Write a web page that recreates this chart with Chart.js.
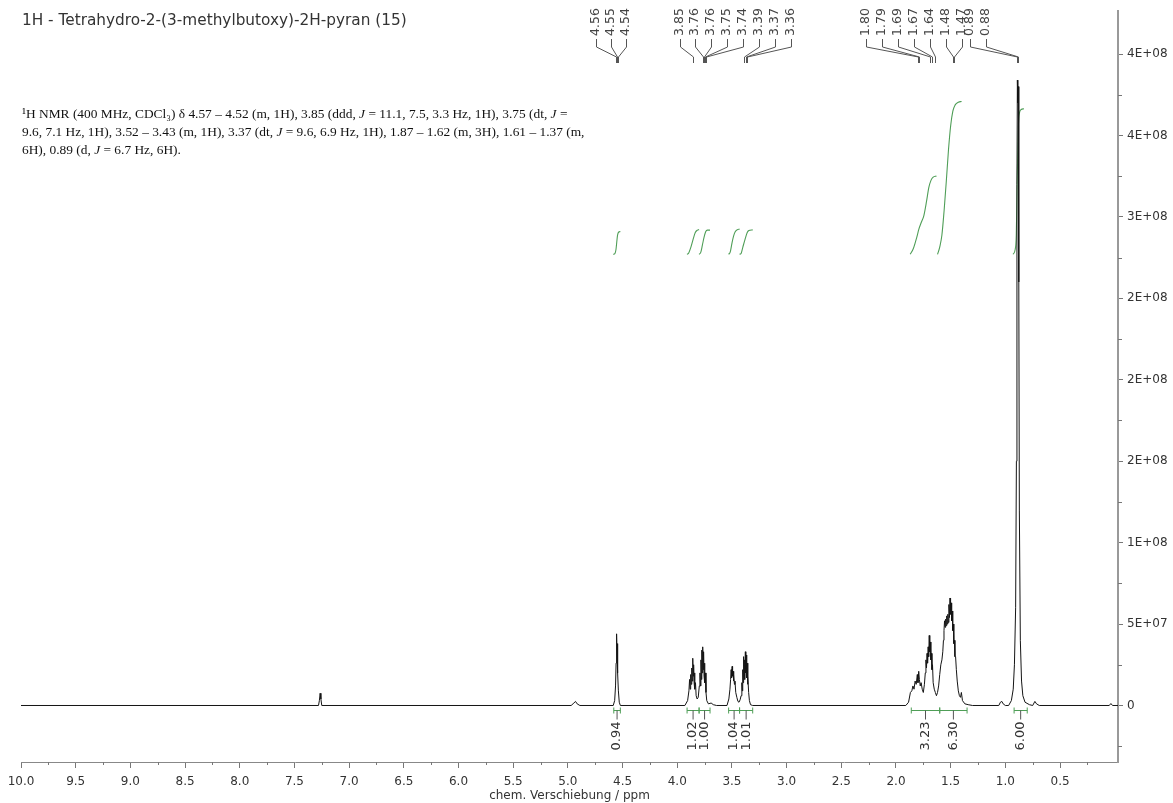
<!DOCTYPE html>
<html lang="de">
<head>
<meta charset="UTF-8">
<title>1H NMR - Tetrahydro-2-(3-methylbutoxy)-2H-pyran</title>
<script src="https://cdn.jsdelivr.net/npm/chart.js"></script>
<style>
  html, body { margin: 0; padding: 0; background: #fff; }
  #wrap { width: 1173px; height: 803px; }
</style>
</head>
<body>
<div id="wrap"><canvas id="nmr" width="1173" height="803"></canvas></div>
<script>
// ---- spectrum (ppm, intensity) ----
const solvent726 = [[7.28,0],[7.272,0.3e7],[7.265,0.75e7],[7.258,0.4e7],[7.25,0]];
const hump493 = [[4.97,0],[4.945,0.15e7],[4.93,0.25e7],[4.915,0.1e7],[4.89,0]];
const mult455 = [[4.585,0],[4.572,0.3e7],[4.564,1.2e7],[4.559,2.6e7],[4.556,3.4e7],[4.553,4.4e7],
  [4.550,3.1e7],[4.547,3.8e7],[4.543,2.0e7],[4.538,0.9e7],[4.530,0.2e7],[4.52,0]];
const mult385 = [[3.93,0],[3.905,0.3e7],[3.893,0.9e7],[3.887,1.6e7],[3.882,1.0e7],[3.877,1.9e7],
  [3.872,1.3e7],[3.867,2.3e7],[3.863,1.5e7],[3.858,2.9e7],[3.854,1.8e7],[3.850,2.5e7],[3.846,1.4e7],
  [3.842,2.0e7],[3.838,1.0e7],[3.833,1.4e7],[3.827,0.6e7],[3.818,0.4e7]];
const mult375 = [[3.808,0.5e7],[3.798,1.2e7],[3.792,2.0e7],[3.788,1.2e7],[3.783,2.8e7],[3.779,1.6e7],
  [3.775,3.4e7],[3.771,2.0e7],[3.767,3.6e7],[3.763,2.2e7],[3.759,3.3e7],[3.755,1.8e7],[3.751,2.6e7],
  [3.747,1.4e7],[3.743,2.0e7],[3.737,0.8e7],[3.73,0.3e7],[3.715,0.1e7],[3.69,0.15e7],[3.67,0.05e7],[3.64,0]];
const mult348 = [[3.545,0],[3.528,0.4e7],[3.518,1.0e7],[3.512,1.6e7],[3.507,2.2e7],[3.503,1.7e7],
  [3.498,2.4e7],[3.494,1.8e7],[3.490,2.1e7],[3.486,1.5e7],[3.482,1.9e7],[3.477,1.3e7],[3.472,1.5e7],
  [3.465,0.8e7],[3.455,0.5e7],[3.445,0.25e7],[3.435,0.2e7],[3.425,0.35e7]];
const mult337 = [[3.416,0.6e7],[3.409,1.4e7],[3.405,0.9e7],[3.401,2.2e7],[3.397,1.4e7],[3.393,3.0e7],
  [3.389,1.8e7],[3.385,2.8e7],[3.381,1.6e7],[3.377,3.3e7],[3.373,2.0e7],[3.369,3.1e7],[3.365,1.7e7],
  [3.361,2.6e7],[3.357,1.3e7],[3.353,1.8e7],[3.347,0.8e7],[3.34,0.3e7],[3.33,0.05e7],[3.31,0]];
const mult175 = [[1.91,0],[1.885,0.2e7],[1.868,0.8e7],[1.855,0.9e7],[1.845,1.2e7],[1.835,1.0e7],
  [1.825,1.5e7],[1.815,1.3e7],[1.805,1.9e7],[1.799,1.4e7],[1.792,2.1e7],[1.786,1.6e7],[1.778,1.2e7],
  [1.770,1.4e7],[1.760,1.0e7],[1.750,0.8e7],[1.740,1.3e7],[1.732,2.0e7],[1.726,2.8e7],[1.721,2.3e7],
  [1.716,3.2e7],[1.711,2.6e7],[1.706,3.6e7],[1.701,3.0e7],[1.696,4.3e7],[1.691,3.3e7],[1.686,3.9e7],
  [1.681,2.8e7],[1.676,3.2e7],[1.671,2.2e7],[1.666,2.5e7],[1.660,1.4e7],[1.650,1.0e7],[1.640,0.8e7],
  [1.630,0.6e7]];
const mult150 = [[1.620,0.8e7],[1.610,1.2e7],[1.600,1.9e7],[1.590,2.5e7],[1.580,2.8e7],[1.572,3.3e7],
  [1.566,4.0e7],[1.561,4.6e7],[1.556,5.2e7],[1.551,4.8e7],[1.546,5.3e7],[1.541,4.9e7],[1.536,5.5e7],
  [1.531,5.0e7],[1.526,5.6e7],[1.521,5.1e7],[1.516,6.2e7],[1.511,5.4e7],[1.506,6.6e7],[1.501,5.6e7],
  [1.496,6.3e7],[1.491,5.2e7],[1.486,5.8e7],[1.481,4.6e7],[1.476,5.0e7],[1.471,3.8e7],[1.466,4.0e7],
  [1.461,3.0e7],[1.455,3.0e7],[1.448,2.2e7],[1.440,1.5e7],[1.430,0.9e7],[1.420,0.6e7],[1.410,0.5e7],
  [1.402,0.8e7],[1.392,0.3e7],[1.37,0.1e7],[1.34,0.05e7],[1.30,0]];
const hump103 = [[1.06,0],[1.045,0.2e7],[1.032,0.25e7],[1.02,0.1e7],[1.00,0]];
const mult088 = [[0.97,0],[0.945,0.3e7],[0.928,1.0e7],[0.917,2.5e7],[0.906,6e7],[0.899,1.5e8],
  [0.894,3.2e8],[0.890,3.84e8],[0.886,3.7e8],[0.882,3.8e8],[0.877,2.6e8],[0.872,1.2e8],[0.863,4e7],
  [0.852,1.5e7],[0.840,0.6e7],[0.820,0.2e7],[0.78,0.05e7]];
const hump072 = [[0.75,0],[0.73,0.25e7],[0.715,0.1e7],[0.69,0]];
const hump003 = [[0.05,0],[0.035,0.12e7],[0.02,0],[-0.03,0]];

// ---- integrals: ppm and cumulative protons ----
const int455 = [[4.585,0],[4.57,0.03],[4.56,0.2],[4.553,0.5],[4.546,0.78],[4.535,0.92],[4.52,0.94]];
const int385 = [[3.91,0],[3.895,0.06],[3.875,0.3],[3.855,0.62],[3.835,0.9],[3.815,1.0],[3.80,1.02]];
const int375 = [[3.80,0],[3.785,0.08],[3.77,0.38],[3.755,0.7],[3.74,0.93],[3.725,1.0],[3.70,1.0]];
const int348 = [[3.53,0],[3.515,0.1],[3.50,0.45],[3.485,0.75],[3.47,0.93],[3.45,1.02],[3.43,1.04]];
const int337 = [[3.43,0],[3.415,0.05],[3.40,0.3],[3.38,0.62],[3.36,0.9],[3.345,0.98],[3.31,1.01]];
const int175 = [[1.87,0],[1.84,0.25],[1.81,0.7],[1.79,1.05],[1.77,1.3],[1.745,1.6],[1.72,2.2],
  [1.70,2.75],[1.68,3.05],[1.66,3.18],[1.63,3.23]];
const int150 = [[1.62,0],[1.60,0.3],[1.58,0.8],[1.56,1.8],[1.54,3.0],[1.52,4.3],[1.50,5.3],
  [1.48,5.9],[1.46,6.15],[1.43,6.27],[1.40,6.30]];
const int088 = [[0.93,0],[0.91,0.2],[0.90,0.8],[0.893,2.6],[0.886,4.4],[0.879,5.5],[0.87,5.85],
  [0.855,5.97],[0.83,6.0]];

// integration brackets under the baseline
const integFrom = [4.58, 3.91, 3.80, 3.53, 3.43, 1.86, 1.60, 0.92];
const integTo   = [4.52, 3.80, 3.70, 3.43, 3.31, 1.60, 1.35, 0.80];
const integText = ['0.94','1.02','1.00','1.04','1.01','3.23','6.30','6.00'];

// peak picking labels
const peakText = ['4.56','4.55','4.54','3.85','3.76','3.76','3.75','3.74','3.39','3.37','3.36',
  '1.80','1.79','1.69','1.67','1.64','1.48','1.47','0.89','0.88'];
const peakPpm = [4.562,4.553,4.544,3.852,3.765,3.759,3.750,3.741,3.392,3.375,3.359,
  1.800,1.789,1.692,1.672,1.640,1.482,1.470,0.890,0.881];

// axis ticks
const xTickValues = [10,9.5,9,8.5,8,7.5,7,6.5,6,5.5,5,4.5,4,3.5,3,2.5,2,1.5,1,0.5];
const xTickLabels = ['10.0','9.5','9.0','8.5','8.0','7.5','7.0','6.5','6.0','5.5','5.0','4.5','4.0',
  '3.5','3.0','2.5','2.0','1.5','1.0','0.5'];
const yTickValues = [0,5e7,1e8,1.5e8,2e8,2.5e8,3e8,3.5e8,4e8];
const yTickLabels = ['0','5E+07','1E+08','2E+08','2E+08','2E+08','3E+08','4E+08','4E+08'];

const titleText = '1H - Tetrahydro-2-(3-methylbutoxy)-2H-pyran (15)';
const descLines = [
  [['\u00B9H NMR (400 MHz, CDCl\u2083) \u03B4 4.57 \u2013 4.52 (m, 1H), 3.85 (ddd, ',0],['J',1],[' = 11.1, 7.5, 3.3 Hz, 1H), 3.75 (dt, ',0],['J',1],[' =',0]],
  [['9.6, 7.1 Hz, 1H), 3.52 \u2013 3.43 (m, 1H), 3.37 (dt, ',0],['J',1],[' = 9.6, 6.9 Hz, 1H), 1.87 \u2013 1.62 (m, 3H), 1.61 \u2013 1.37 (m,',0]],
  [['6H), 0.89 (d, ',0],['J',1],[' = 6.7 Hz, 6H).',0]]
];

// ---- layout / style ----
const peakLabelX = [596,611,626, 680,695,711,727,743,759,775,791,
  866,882,898,914,930,946,962,970,986];
const intBase = 2.77e8;      // where the integral curves start
const intPerH = 1.49e7;      // height of one proton in the integral trace
const green = '#4f9e57';
const axisFont = { family: 'DejaVu Sans', size: 12 };

function pts(arr) { return arr.map(p => ({ x: p[0], y: p[1] })); }
function intPts(arr) { return arr.map(p => ({ x: p[0], y: intBase + p[1] * intPerH })); }

const spectrum = [[10.0,0], ...solvent726, ...hump493, ...mult455, ...mult385, ...mult375,
  ...mult348, ...mult337, ...mult175, ...mult150, ...hump103, ...mult088, ...hump072, ...hump003];

const integrals = [int455, int385, int375, int348, int337, int175, int150, int088];

const datasets = [{
  data: pts(spectrum), borderColor: '#151515', borderWidth: 1, pointRadius: 0, tension: 0
}];
integrals.forEach(arr => datasets.push({
  data: intPts(arr), borderColor: green, borderWidth: 1.1, pointRadius: 0,
  cubicInterpolationMode: 'monotone'
}));

const overlay = {
  id: 'overlay',
  afterDraw(chart) {
    const ctx = chart.ctx;
    const xs = chart.scales.x, ys = chart.scales.y;
    ctx.save();

    // title
    ctx.fillStyle = '#333';
    ctx.font = '15.3px "DejaVu Sans"';
    ctx.textBaseline = 'middle';
    ctx.textAlign = 'left';
    ctx.fillText(titleText, 22, 21);

    // description (serif, J in italics)
    ctx.fillStyle = '#111';
    descLines.forEach((line, i) => {
      let x = 22;
      const y = 114 + i * 18;
      line.forEach(([txt, it]) => {
        ctx.font = (it ? 'italic ' : '') + '13.4px "Liberation Serif"';
        ctx.fillText(txt, x, y);
        x += ctx.measureText(txt).width;
      });
    });

    // peak labels with connectors
    ctx.font = '12.5px "DejaVu Sans"';
    ctx.fillStyle = '#444';
    ctx.strokeStyle = '#555';
    ctx.lineWidth = 1;
    peakText.forEach((t, i) => {
      const lx = peakLabelX[i];
      const px = Math.round(xs.getPixelForValue(peakPpm[i])) + 0.5;
      ctx.save();
      ctx.translate(lx, 36);
      ctx.rotate(-Math.PI / 2);
      ctx.textAlign = 'left';
      ctx.textBaseline = 'middle';
      ctx.fillText(t, 0, 0);
      ctx.restore();
      ctx.beginPath();
      ctx.moveTo(lx + 0.5, 39);
      ctx.lineTo(lx + 0.5, 47);
      ctx.lineTo(px, 57);
      ctx.lineTo(px, 63);
      ctx.stroke();
    });

    // integration brackets + values
    const y0 = ys.getPixelForValue(0);
    const by = Math.round(y0) + 5.5;
    integText.forEach((t, i) => {
      const a = xs.getPixelForValue(integFrom[i]);
      const b = xs.getPixelForValue(integTo[i]);
      const m = (a + b) / 2;
      ctx.strokeStyle = green;
      ctx.beginPath();
      ctx.moveTo(a, by); ctx.lineTo(b, by);
      ctx.moveTo(a, by - 3); ctx.lineTo(a, by + 3);
      ctx.moveTo(b, by - 3); ctx.lineTo(b, by + 3);
      ctx.stroke();
      ctx.strokeStyle = '#555';
      ctx.beginPath();
      ctx.moveTo(m, by); ctx.lineTo(m, by + 9);
      ctx.stroke();
      ctx.save();
      ctx.translate(m, by + 11);
      ctx.rotate(-Math.PI / 2);
      ctx.fillStyle = '#333';
      ctx.font = '13px "DejaVu Sans"';
      ctx.textAlign = 'right';
      ctx.textBaseline = 'middle';
      ctx.fillText(t, 0, 0);
      ctx.restore();
    });

    // minor ticks
    ctx.strokeStyle = '#777';
    ctx.lineWidth = 1;
    const xb = chart.chartArea.bottom;
    xTickValues.forEach(v => {
      const mv = v - 0.25;
      if (mv < xs.min) return;
      const x = Math.round(xs.getPixelForValue(mv)) + 0.5;
      ctx.beginPath(); ctx.moveTo(x, xb); ctx.lineTo(x, xb + 3); ctx.stroke();
    });
    const yr = chart.chartArea.right;
    yTickValues.forEach(v => {
      const mv = v - 2.5e7;
      if (mv < ys.min) return;
      const y = Math.round(ys.getPixelForValue(mv)) + 0.5;
      ctx.beginPath(); ctx.moveTo(yr, y); ctx.lineTo(yr + 4, y); ctx.stroke();
    });
    ctx.restore();
  }
};

new Chart(document.getElementById('nmr').getContext('2d'), {
  type: 'line',
  data: { datasets },
  options: {
    responsive: false,
    animation: false,
    events: [],
    layout: { padding: { left: 21, top: 5, right: 0, bottom: 0 } },
    plugins: { legend: { display: false }, tooltip: { enabled: false } },
    scales: {
      x: {
        type: 'linear', reverse: true, min: -0.03, max: 10,
        afterBuildTicks: s => { s.ticks = xTickValues.map(v => ({ value: v })); },
        afterFit: s => { s.height = 41; },
        ticks: {
          autoSkip: false, maxRotation: 0, padding: 7, color: '#333', font: axisFont,
          callback: (v, i) => xTickLabels[i]
        },
        grid: { drawOnChartArea: false, tickLength: 6, tickColor: '#777' },
        border: { color: '#888', width: 1 },
        title: { display: true, text: 'chem. Verschiebung / ppm', color: '#333', font: axisFont,
                 padding: { top: 0, bottom: 0 } }
      },
      y: {
        type: 'linear', position: 'right', min: -3.47e7, max: 4.263e8,
        afterBuildTicks: s => { s.ticks = yTickValues.map(v => ({ value: v })); },
        afterFit: s => { s.width = 55; },
        ticks: {
          padding: 4, color: '#333', font: axisFont,
          callback: (v, i) => yTickLabels[i]
        },
        grid: { drawOnChartArea: false, tickLength: 5, tickColor: '#777' },
        border: { color: '#999', width: 2 }
      }
    }
  },
  plugins: [overlay]
});
</script>
</body>
</html>
